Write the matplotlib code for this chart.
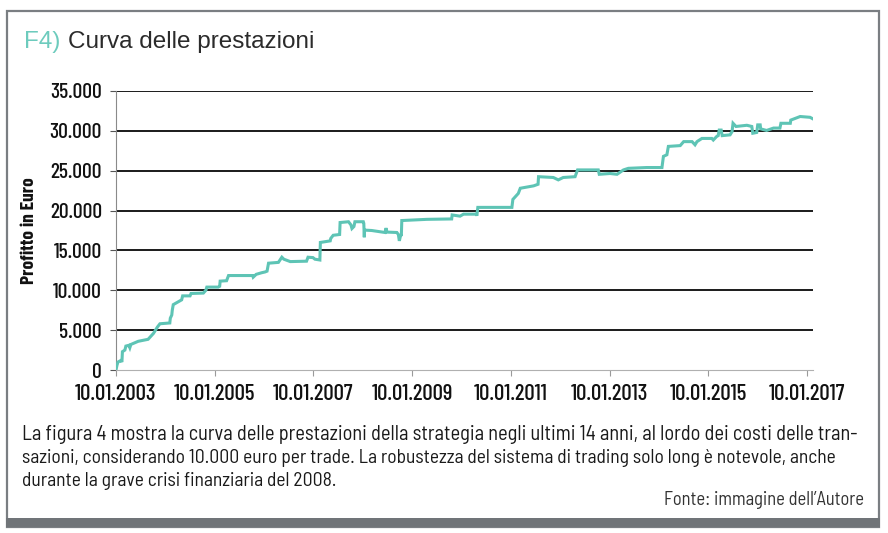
import matplotlib
matplotlib.use("Agg")
import matplotlib.pyplot as plt
from matplotlib.patches import Rectangle
from matplotlib.ticker import FuncFormatter

# curva delle prestazioni (anno decimale, profitto in euro)
anni = [2003.00, 2003.02, 2003.04, 2003.10, 2003.12, 2003.13, 2003.18, 2003.20, 2003.26, 2003.28,
        2003.30, 2003.45, 2003.65, 2003.70, 2003.76, 2003.84, 2003.89, 2004.09, 2004.10, 2004.13,
        2004.14, 2004.16, 2004.33, 2004.35, 2004.50, 2004.52, 2004.77, 2004.82, 2004.84, 2005.07,
        2005.10, 2005.11, 2005.24, 2005.28, 2005.77, 2005.78, 2005.84, 2005.95, 2006.02, 2006.06,
        2006.09, 2006.29, 2006.36, 2006.40, 2006.53, 2006.86, 2006.89, 2006.99, 2007.03, 2007.13,
        2007.14, 2007.34, 2007.35, 2007.40, 2007.53, 2007.54, 2007.71, 2007.76, 2007.78, 2007.82,
        2007.84, 2008.01, 2008.02, 2008.03, 2008.035, 2008.18, 2008.45, 2008.47, 2008.49, 2008.69,
        2008.72, 2008.74, 2008.77, 2008.78, 2008.79, 2009.30, 2009.80, 2009.81, 2009.97, 2010.04,
        2010.30, 2010.31, 2010.33, 2011.02, 2011.04, 2011.15, 2011.19, 2011.46, 2011.55, 2011.56,
        2011.86, 2011.96, 2012.06, 2012.30, 2012.35, 2012.77, 2012.79, 2013.01, 2013.15, 2013.28,
        2013.38, 2013.75, 2014.06, 2014.09, 2014.16, 2014.19, 2014.43, 2014.50, 2014.67, 2014.73,
        2014.77, 2014.87, 2015.07, 2015.10, 2015.17, 2015.20, 2015.22, 2015.26, 2015.28, 2015.44,
        2015.48, 2015.50, 2015.56, 2015.78, 2015.88, 2015.90, 2015.98, 2016.00, 2016.05, 2016.06,
        2016.18, 2016.32, 2016.45, 2016.47, 2016.66, 2016.67, 2016.86, 2017.06, 2017.12]
profitto = [0, 600, 1000, 1200, 1000, 2300, 2500, 3000, 3100, 2800,
            3200, 3600, 3850, 4200, 4600, 5400, 5800, 5900, 6500, 6900,
            7500, 8200, 8800, 9300, 9300, 9600, 9650, 10000, 10400, 10400,
            10500, 11150, 11200, 11850, 11850, 11650, 12000, 12200, 12300, 12400,
            13400, 13500, 14150, 13900, 13600, 13650, 14150, 14100, 13900, 13800,
            16000, 16200, 16500, 16900, 17000, 18500, 18600, 18200, 17750, 18000,
            18600, 18600, 18400, 16650, 17550, 17500, 17250, 17800, 17300, 17250,
            17000, 16200, 17000, 16800, 18750, 18900, 18950, 19450, 19300, 19550,
            19550, 19350, 20400, 20400, 21400, 22150, 22800, 23100, 23300, 24250,
            24150, 23850, 24150, 24250, 25100, 25100, 24550, 24650, 24550, 25100,
            25300, 25400, 25400, 26800, 27000, 28050, 28150, 28650, 28650, 28250,
            28650, 29050, 29050, 28850, 29300, 29400, 30100, 30100, 29400, 29500,
            29900, 30950, 30550, 30700, 30550, 29700, 29800, 30750, 30750, 30250,
            30050, 30350, 30350, 30950, 30950, 31350, 31800, 31700, 31500]

tick_anni = [2003, 2005, 2007, 2009, 2011, 2013, 2015, 2017]
tick_etichette = ["10.01.2003", "10.01.2005", "10.01.2007", "10.01.2009",
                  "10.01.2011", "10.01.2013", "10.01.2015", "10.01.2017"]
tick_y = [0, 5000, 10000, 15000, 20000, 25000, 30000, 35000]

titolo_num = "F4)"
titolo = "Curva delle prestazioni"
didascalia = ["La figura 4 mostra la curva delle prestazioni della strategia negli ultimi 14 anni, al lordo dei costi delle tran-",
              "sazioni, considerando 10.000 euro per trade. La robustezza del sistema di trading solo long è notevole, anche",
              "durante la grave crisi finanziaria del 2008."]
fonte = "Fonte: immagine dell\u2019Autore"

TEAL = "#5ec4b5"
COND = ["Barlow Condensed", "Archivo Narrow", "DejaVu Sans"]
TESTO = ["Barlow Semi Condensed", "Archivo Narrow", "DejaVu Sans"]
SANS = ["Liberation Sans", "DejaVu Sans"]
W, H = 888, 533


def fx(px):
    return px / W


def fy(py):
    return 1 - py / H


fig = plt.figure(figsize=(W / 100, H / 100), dpi=100)
fig.patch.set_facecolor("white")

# cornice
fig.patches.append(Rectangle((fx(7), fy(527)), fx(872), 516 / H, transform=fig.transFigure,
                             facecolor="none", edgecolor="#7a7e82", lw=1.6))
fig.patches.append(Rectangle((fx(6), fy(527)), fx(874), 9 / H, transform=fig.transFigure,
                             facecolor="#707478", edgecolor="none"))

ax = fig.add_axes([fx(116), fy(370), fx(813 - 116), (370 - 91) / H])
ax.plot(anni, profitto, color=TEAL, lw=2.2, solid_joinstyle="miter", zorder=3)

ax.set_xlim(2003, 2017.12)
ax.set_ylim(0, 35000)
ax.set_xticks(tick_anni)
ax.set_xticklabels(tick_etichette)
ax.set_yticks(tick_y)
ax.yaxis.set_major_formatter(FuncFormatter(lambda v, p: "0" if v == 0 else f"{int(v):,}".replace(",", ".")))

for y in tick_y[1:]:
    ax.axhline(y, color="#1a1a1a", lw=1.4, zorder=2)

for s in ["top", "right"]:
    ax.spines[s].set_visible(False)
ax.spines["left"].set_color("#8a8a8a")
ax.spines["bottom"].set_color("#b0b0b0")
ax.tick_params(axis="x", length=4, color="#9a9a9a", pad=6, labelsize=16.5, labelcolor="#111111")
ax.tick_params(axis="y", length=4, color="#555555", pad=6, labelsize=15.5, labelcolor="#111111")
for lab in ax.get_xticklabels() + ax.get_yticklabels():
    lab.set_family(COND)
    lab.set_fontweight(500)

ax.set_ylabel("Profitto in Euro", family=COND, fontsize=14, fontweight="bold", color="#111111")
ax.yaxis.set_label_coords(-0.112, 0.5)

fig.text(fx(24), fy(42), titolo_num, color="#6dcbbd", fontsize=17.5, va="center", family=SANS)
fig.text(fx(68), fy(42), titolo, color="#2b2b2b", fontsize=17.5, va="center", family=SANS)

# didascalia: adatta la dimensione alla larghezza delle righe
fig.canvas.draw()
renderer = fig.canvas.get_renderer()
larghezze = [835, 816, None]
size_base = 13
for i, riga in enumerate(didascalia):
    t = fig.text(fx(22), fy(435 + i * 23), riga, fontsize=size_base, va="center",
                 color="#1a1a1a", family=TESTO)
    if larghezze[i]:
        w = t.get_window_extent(renderer).width
        t.set_fontsize(size_base * larghezze[i] / w)
        if i == 1:
            size_base = size_base * larghezze[i] / w
fig.text(fx(864), fy(500), fonte, fontsize=size_base * 0.95, va="center", ha="right",
         color="#333333", family=TESTO)

fig.savefig("out.png", dpi=100)
